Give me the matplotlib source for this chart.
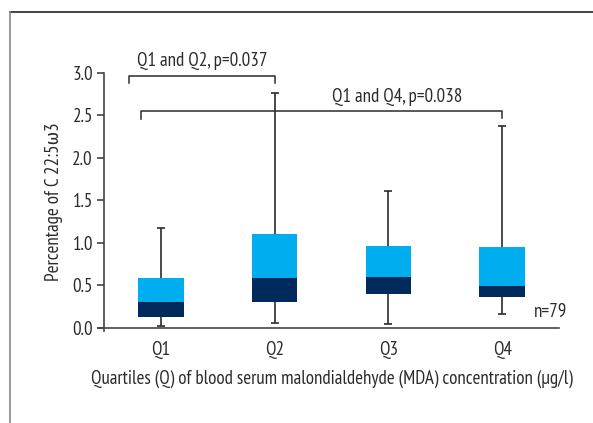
import matplotlib
matplotlib.use('Agg')
import matplotlib.pyplot as plt
from matplotlib.lines import Line2D

plt.rcParams['font.family'] = ['PT Sans Narrow', 'Fira Sans Condensed', 'DejaVu Sans']

# quartile groups and box statistics
GROUPS = ['Q1', 'Q2', 'Q3', 'Q4']
WHISKER_LOW = [0.02, 0.06, 0.04, 0.155]
BOX_LOW = [0.13, 0.30, 0.40, 0.36]
MEDIAN = [0.30, 0.58, 0.60, 0.49]
BOX_HIGH = [0.58, 1.10, 0.96, 0.95]
WHISKER_HIGH = [1.17, 2.77, 1.61, 2.38]

LIGHT = '#00adee'
DARK = '#002a5c'
INK = '#2b2b2b'
FS = 13.7

fig = plt.figure(figsize=(5.93, 4.23), dpi=100)
ax = fig.add_axes([0.1754, 0.2175, 0.9427 - 0.1754, 0.8274 - 0.2175])

pos = list(range(1, len(GROUPS) + 1))
width = 0.4
cap = 0.035

# whiskers behind the boxes
ax.vlines(pos, WHISKER_LOW, BOX_LOW, color=INK, lw=1.2, zorder=1)
ax.vlines(pos, BOX_HIGH, WHISKER_HIGH, color=INK, lw=1.2, zorder=1)
ax.hlines(WHISKER_LOW, [p - cap for p in pos], [p + cap for p in pos], color=INK, lw=1.2, zorder=1)
ax.hlines(WHISKER_HIGH, [p - cap for p in pos], [p + cap for p in pos], color=INK, lw=1.2, zorder=1)

lower = [m - b for m, b in zip(MEDIAN, BOX_LOW)]
upper = [h - m for h, m in zip(BOX_HIGH, MEDIAN)]
ax.bar(pos, lower, width, bottom=BOX_LOW, color=DARK, zorder=2)
ax.bar(pos, upper, width, bottom=MEDIAN, color=LIGHT, zorder=2)

ax.set_xlim(0.5, 4.5)
ax.set_ylim(-0.04, 3.0)
ax.set_yticks([0, 0.5, 1.0, 1.5, 2.0, 2.5, 3.0])
ax.set_yticklabels(['0.0', '0.5', '1.0', '1.5', '2.0', '2.5', '3.0'])
ax.set_xticks(pos)
ax.set_xticklabels(GROUPS)

for s in ['top', 'right']:
    ax.spines[s].set_visible(False)
ax.spines['bottom'].set_position(('data', 0))
ax.spines['bottom'].set_bounds(0.45, 4.5)
for s in ['left', 'bottom']:
    ax.spines[s].set_color('#444444')
    ax.spines[s].set_linewidth(1.2)
ax.tick_params(axis='y', length=5, width=1.2, color='#444444', labelsize=FS,
               labelcolor=INK, pad=3)
ax.tick_params(axis='x', length=0, labelsize=FS, labelcolor=INK, pad=10)

ax.set_ylabel('Percentage of C 22:5ω3', fontsize=FS, color=INK, labelpad=7)
ax.set_xlabel('Quartiles (Q) of blood serum malondialdehyde (MDA) concentration (μg/l)',
              fontsize=FS, color=INK, labelpad=7)

# significance brackets
ax.plot([0.72, 0.72, 2.0, 2.0], [2.88, 2.97, 2.97, 2.88], color=INK, lw=1.1, clip_on=False)
ax.text(1.36, 3.03, 'Q1 and Q2, p=0.037', ha='center', va='bottom', fontsize=FS,
        color=INK, clip_on=False)
ax.plot([0.825, 0.825, 4.0, 4.0], [2.46, 2.55, 2.55, 2.47], color=INK, lw=1.1, clip_on=False)
ax.text(3.08, 2.61, 'Q1 and Q4, p=0.038', ha='center', va='bottom', fontsize=FS, color=INK)

ax.text(4.28, 0.18, 'n=79', ha='left', va='center', fontsize=FS, color=INK, clip_on=False)

# partial frame around the figure
fig.add_artist(Line2D([10 / 593, 1.0], [1 - 12.5 / 423] * 2, transform=fig.transFigure,
                      color='#222222', lw=1.2))
fig.add_artist(Line2D([10 / 593] * 2, [0, 1 - 12.5 / 423], transform=fig.transFigure,
                      color='#888888', lw=1.2))

fig.savefig('out.png', dpi=100)
